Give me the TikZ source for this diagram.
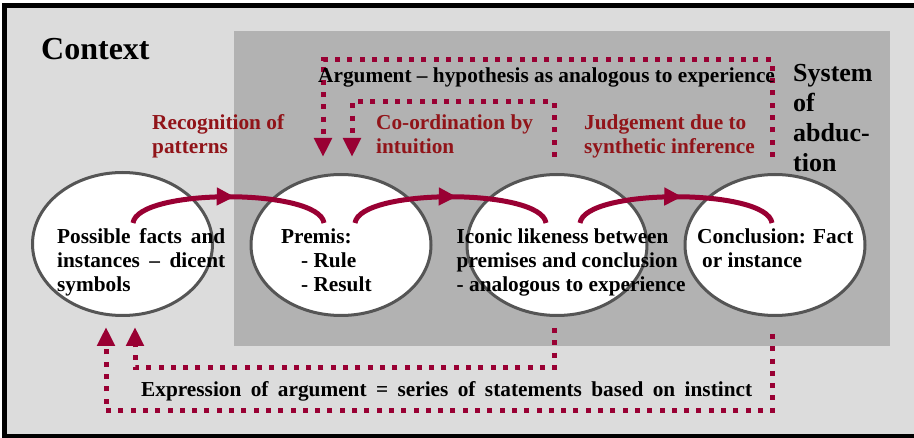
\documentclass[tikz,border=0pt]{standalone}
\usepackage{fontspec}
\setmainfont{Liberation Serif}
\usetikzlibrary{shapes.geometric,arrows.meta,calc,decorations.markings}
\definecolor{ctxgray}{RGB}{220,220,220}
\definecolor{sysgray}{RGB}{178,178,178}
\definecolor{rimgray}{RGB}{85,85,85}
\definecolor{flowred}{RGB}{153,0,51}
\definecolor{labelred}{RGB}{145,20,25}

\begin{document}
\begin{tikzpicture}[x=1pt,y=1pt,
  stage/.style={ellipse, draw=rimgray, line width=3pt, fill=white,
    minimum width=180pt, minimum height=141pt, inner sep=0pt},
  txt/.style={font=\bfseries\fontsize{21.3}{24}\selectfont, inner sep=0pt,
    anchor=base west, align=left},
  redtxt/.style={txt, text=labelred},
  flow/.style={color=flowred, line width=5pt, postaction={decorate},
    decoration={markings, mark=at position 0.53 with
      {\arrow{Triangle[length=18pt,width=17pt]}}}},
  dotflow/.style={color=flowred, line width=5pt, dash pattern=on 5pt off 7.3pt,
    -{Triangle[length=19pt,width=17pt]}},
]
\useasboundingbox (0,0) rectangle (914,-438);
\clip (0,0) rectangle (914,-438);

% context frame and the system area
\draw[line width=5pt, fill=ctxgray] (4.5,-5.5) rectangle (918,-436.8);
\fill[sysgray] (234,-31) rectangle (890,-346);

% the four stages
\node[stage, minimum height=143pt] (e1) at (122.5,-244) {};
\node[stage] (e2) at (341,-245) {};
\node[stage] (e3) at (557,-245) {};
\node[stage] (e4) at (775,-245) {};

% solid flow arcs between stages
\draw[flow] ($(e1.center)+(10.5,21)$) .. controls +(5,35) and +(-5,35) .. ($(e2.center)+(-17,22)$);
\draw[flow] ($(e2.center)+(14,22)$) .. controls +(5,35) and +(-5,35) .. ($(e3.center)+(-11,22)$);
\draw[flow] ($(e3.center)+(23,22)$) .. controls +(5,35) and +(-5,35) .. ($(e4.center)+(-3,22)$);

% dotted feedback loops
\draw[dotflow] ($(e4.north)+(-3,16)$) -- ++(0,97) -| ($(e2.north)+(-18,16)$);
\draw[dotflow] ($(e3.north)+(-3,16)$) -- ++(0,55) -| ($(e2.north)+(11,16)$);
\draw[dotflow] ($(e3.south)+(-3,-11)$) -- ++(0,-40) -| ($(e1.south)+(12.5,-10)$);
\draw[dotflow] ($(e4.south)+(-3,-17)$) -- ++(0,-77) -| ($(e1.south)+(-16.5,-10)$);

% titles (multi-line nodes are placed by the baseline of their last line)
\node[font=\bfseries\fontsize{32}{36}\selectfont, inner sep=0pt, anchor=base west] (ctx) at (41,-60) {Context};
\node[txt, font=\bfseries\fontsize{26}{30}\selectfont] (sys) at (793,-172) {System\\of\\abduc-\\tion};

% labels of the transitions
\node[redtxt] (rec) at (152,-154) {Recognition of\\patterns};
\node[redtxt] (coo) at (376,-154) {Co-ordination by\\intuition};
\node[redtxt] (jud) at (584,-154) {Judgement due to\\synthetic inference};
\node[txt] (arg) at (318,-83) {Argument – hypothesis as analogous to experience};
\node[txt] (expr) at (141,-397) {\makebox[611pt][s]{Expression of argument = series of statements based on instinct}};

% stage contents
\node[txt] (t1) at (57,-292) {\makebox[168pt][s]{Possible facts and}\\\makebox[168pt][s]{instances – dicent}\\symbols};
\node[txt] (t2) at (281,-292) {Premis:\\\hspace*{20pt}- Rule\\\hspace*{20pt}- Result};
\node[txt] (t3) at (456.5,-292) {Iconic likeness between\\premises and conclusion\\- analogous to experience};
\node[txt] (t4) at (697,-268) {Conclusion: Fact\\\hspace*{5pt}or instance};
\end{tikzpicture}
\end{document}
